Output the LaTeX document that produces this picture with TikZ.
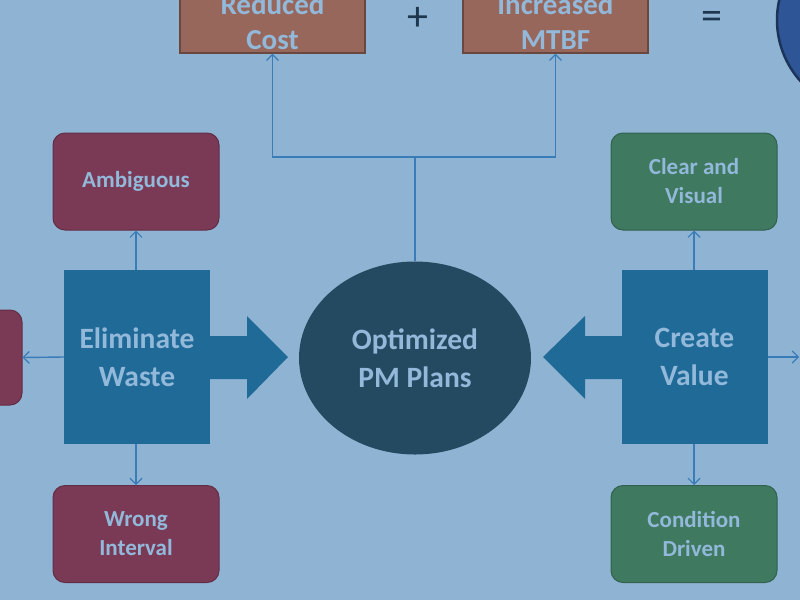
\documentclass[tikz,border=0pt]{standalone}
\usepackage{fontspec}
\setmainfont{Carlito}
\usetikzlibrary{shapes.geometric,arrows.meta,calc}
\definecolor{bgc}{RGB}{143,179,211}
\definecolor{bluebox}{RGB}{32,106,152}
\definecolor{ellc}{RGB}{36,74,97}
\definecolor{maroon}{RGB}{122,58,86}
\definecolor{greenb}{RGB}{63,121,96}
\definecolor{brownb}{RGB}{152,103,92}
\definecolor{linec}{RGB}{58,124,184}
\definecolor{txtc}{RGB}{146,184,218}
\definecolor{darkt}{RGB}{30,55,80}
\definecolor{resc}{RGB}{46,86,150}
\tikzset{
  every node/.style={font=\bfseries, text=txtc, align=center, inner sep=0pt},
  smallbox/.style={rounded corners=12pt, minimum width=166pt, minimum height=97pt, font=\fontsize{23}{29}\selectfont\bfseries, draw=#1!80!black, line width=1pt, fill=#1},
  bigbox/.style={minimum width=146pt, minimum height=174pt, fill=bluebox, font=\fontsize{29.5}{38}\selectfont\bfseries},
  topbox/.style={minimum width=185pt, minimum height=62pt, fill=brownb, draw=brownb!70!black, line width=1.2pt, font=\fontsize{29}{35}\selectfont\bfseries},
  conn/.style={draw=linec, line width=1.4pt, -{Straight Barb[length=6pt,width=12pt,line width=1.2pt]}},
  plain/.style={draw=linec, line width=1.4pt},
  fat/.style={fill=bluebox},
  sign/.style={text=darkt, font=\fontsize{42}{42}\selectfont},
}
\begin{document}
\begin{tikzpicture}[x=1pt,y=-1pt]
\useasboundingbox (0,0) rectangle (800,600);
\fill[bgc] (0,0) rectangle (800,600);
% top row
\node[topbox] (rc) at (272.5,22) {Reduced\\Cost};
\node[topbox] (mtbf) at (555.5,22) {Increased\\MTBF};
\node[sign] (plus) at (418,19) {+};
\node[sign] (eq) at (712,20) {=};
\node[ellipse, minimum width=186pt, minimum height=184pt, fill=resc, draw=resc!60!black, line width=2.5pt] (res) at (870,20) {};
% centre
\node[ellipse, minimum width=232pt, minimum height=193pt, fill=ellc, font=\fontsize{29.5}{38}\selectfont\bfseries] (opt) at (415,358) {Optimized\\PM Plans};
% fat arrows
\fill[fat] (208,336) -- (247,336) -- (247,316) -- (288,357) -- (247,399) -- (247,379) -- (208,379) -- cycle;
\fill[fat] (624,336) -- (585,336) -- (585,316) -- (543,357) -- (585,399) -- (585,379) -- (624,379) -- cycle;
% left side
\node[bigbox] (ew) at (137,357) {Eliminate\\Waste};
\node[smallbox=maroon] (amb) at (136,181.5) {Ambiguous};
\node[smallbox=maroon] (wi) at (136,534) {Wrong\\Interval};
\node[smallbox=maroon, minimum width=82pt, minimum height=95pt] (lb) at (-19,357.5) {};
% right side
\node[bigbox] (cv) at (694.5,357) {Create\\Value};
\node[smallbox=greenb] (cvis) at (694,181.5) {Clear and\\Visual};
\node[smallbox=greenb] (cd) at (694,534) {Condition\\Driven};
\coordinate (rend) at (799,357);
% connectors
\coordinate (j) at (415,157);
\draw[plain] (opt.north) -- (j);
\draw[conn] (j) -| (rc.south);
\draw[conn] (j) -| (mtbf.south);
\draw[conn] (ew.north -| amb.south) -- (amb.south);
\draw[conn] (ew.south -| wi.north) -- (wi.north);
\draw[conn] (ew.west) -- (lb.east);
\draw[conn] (cv.north -| cvis.south) -- (cvis.south);
\draw[conn] (cv.south -| cd.north) -- (cd.north);
\draw[conn] (cv.east) -- (rend);
\end{tikzpicture}
\end{document}
